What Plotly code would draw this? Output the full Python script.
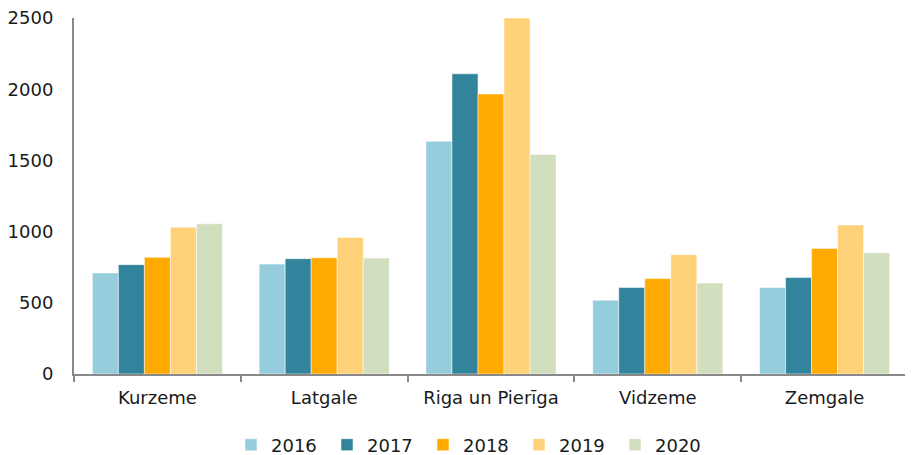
import plotly.graph_objects as go

regions = ["Kurzeme", "Latgale", "Riga un Pierīga", "Vidzeme", "Zemgale"]
years = ["2016", "2017", "2018", "2019", "2020"]

v2016 = [710, 772, 1634, 518, 607]
v2017 = [768, 810, 2108, 607, 677]
v2018 = [819, 817, 1966, 670, 882]
v2019 = [1031, 959, 2500, 838, 1046]
v2020 = [1055, 814, 1541, 639, 852]

colors = ["#96CDDC", "#31849B", "#FFAA00", "#FFD178", "#D2DFBF"]

# page body has an 8px margin, so the figure is sized/offset to compensate
W, H = 905, 447

fig = go.Figure()
for name, vals, col in zip(years, [v2016, v2017, v2018, v2019, v2020], colors):
    fig.add_trace(go.Bar(
        name=name, x=regions, y=vals,
        marker=dict(color=col, line=dict(color="rgba(255,255,255,0.5)", width=1)),
        cliponaxis=False,
    ))

fig.update_layout(
    width=W, height=H,
    barmode="group", bargap=0.22, bargroupgap=0,
    plot_bgcolor="white", paper_bgcolor="white",
    font=dict(family="DejaVu Sans", size=18, color="#1a1a1a"),
    margin=dict(l=66, r=5, t=10, b=81, autoexpand=False),
    showlegend=True,
    legend=dict(
        orientation="h", xref="container", x=223 / W, xanchor="left",
        yref="container", y=10 / H, yanchor="middle",
        entrywidth=51, entrywidthmode="pixels", font=dict(size=18),
        traceorder="normal",
    ),
)
fig.update_xaxes(
    showline=True, linecolor="#898989", linewidth=2,
    ticks="outside", tickson="boundaries", ticklen=6, tickcolor="#898989", tickwidth=2,
    showgrid=False, automargin=False, ticklabelstandoff=6,
)
fig.update_yaxes(
    range=[0, 2500], dtick=500, showline=True, linecolor="#898989", linewidth=2,
    showgrid=False, zeroline=False, ticks="", ticklabelstandoff=15, automargin=False,
    ticklabeloverflow="allow",
)

fig.write_html("out.html")
